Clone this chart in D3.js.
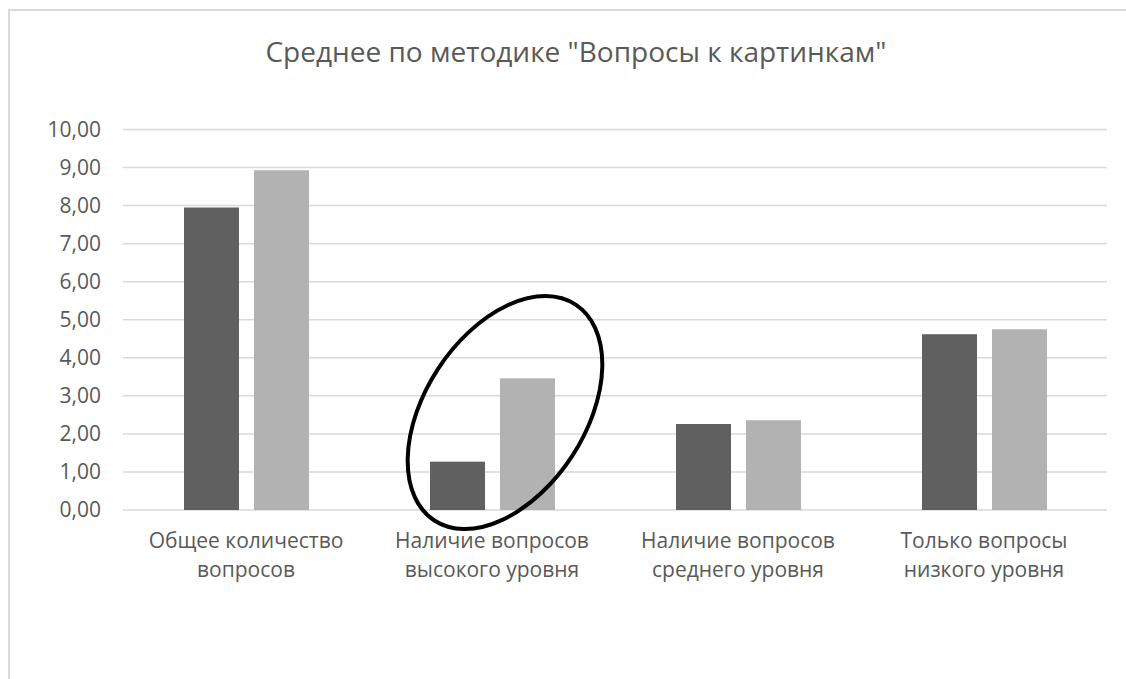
<!DOCTYPE html>
<html>
<head>
<meta charset="utf-8">
<script src="https://cdn.jsdelivr.net/npm/d3@7"></script>
<style>
  html, body { margin: 0; padding: 0; background: #fff; }
  svg { display: block; font-family: "Open Sans", "Noto Sans", sans-serif; }
</style>
</head>
<body>
<svg id="chart" width="1126" height="679"></svg>
<script>
const title = 'Среднее по методике "Вопросы к картинкам"';
const categories = [
  ["Общее количество", "вопросов"],
  ["Наличие вопросов", "высокого уровня"],
  ["Наличие вопросов", "среднего уровня"],
  ["Только вопросы", "низкого уровня"]
];
const series1 = [7.95, 1.27, 2.26, 4.62];
const series2 = [8.93, 3.46, 2.36, 4.75];
const yTicks = [0, 1, 2, 3, 4, 5, 6, 7, 8, 9, 10];
const seriesColors = ["#606060", "#b2b2b2"];
const highlight = { category: 1, value: 2.56 };

const svg = d3.select("#chart");
const W = 1126, H = 679;
const plot = { left: 123, right: 1107, top: 129.5, bottom: 510 };

// chart area border
svg.append("rect")
  .attr("x", 9).attr("y", 10)
  .attr("width", W + 20).attr("height", H + 20)
  .attr("fill", "#fff")
  .attr("stroke", "#d9d9d9").attr("stroke-width", 2);

// title
svg.append("text")
  .attr("x", 576).attr("y", 62)
  .attr("text-anchor", "middle")
  .attr("font-size", 28)
  .attr("fill", "#595959")
  .text(title);

const catKeys = categories.map((c, i) => i);
const x0 = d3.scaleBand().domain(catKeys).range([plot.left, plot.right]).padding(0);
const x1 = d3.scaleBand().domain([0, 1]).range([61, 186]).paddingInner(0.2143).paddingOuter(0);
const y = d3.scaleLinear().domain([0, 10]).range([plot.bottom, plot.top]);

// gridlines
svg.append("g")
  .selectAll("line")
  .data(yTicks)
  .join("line")
  .attr("x1", plot.left).attr("x2", plot.right)
  .attr("y1", d => y(d)).attr("y2", d => y(d))
  .attr("stroke", "#d9d9d9").attr("stroke-width", 1.5);

// y axis labels
const yAxis = d3.axisLeft(y)
  .tickValues(yTicks)
  .tickSize(0)
  .tickPadding(0)
  .tickFormat(d => d3.format(".2f")(d).replace(".", ","));
const yg = svg.append("g")
  .attr("transform", `translate(101,0)`)
  .call(yAxis);
yg.select(".domain").remove();
yg.selectAll("text")
  .attr("font-size", 21)
  .attr("font-family", '"Open Sans", sans-serif')
  .attr("fill", "#595959");

// bars
const data = [series1, series2];
const groups = svg.append("g")
  .selectAll("g")
  .data(catKeys)
  .join("g")
  .attr("transform", d => `translate(${x0(d)},0)`);

groups.selectAll("rect")
  .data(ci => data.map((s, si) => ({ si, v: s[ci] })))
  .join("rect")
  .attr("x", d => x1(d.si))
  .attr("width", x1.bandwidth())
  .attr("y", d => y(d.v))
  .attr("height", d => y(0) - y(d.v))
  .attr("fill", d => seriesColors[d.si]);

// category labels
const catLabels = svg.append("g")
  .selectAll("text")
  .data(categories)
  .join("text")
  .attr("text-anchor", "middle")
  .attr("font-size", 21)
  .attr("fill", "#595959");
catLabels.each(function (lines, i) {
  const t = d3.select(this);
  lines.forEach((ln, j) => {
    t.append("tspan")
      .attr("x", x0(i) + x0.bandwidth() / 2)
      .attr("y", 548 + j * 28.5)
      .text(ln);
  });
});

// hand-drawn highlight ellipse
const hcx = x0(highlight.category) + x0.bandwidth() / 2 + 13;
const hcy = y(highlight.value);
svg.append("ellipse")
  .attr("cx", 0).attr("cy", 0)
  .attr("rx", 129).attr("ry", 80)
  .attr("transform", `translate(${hcx},${hcy}) rotate(-56.8)`)
  .attr("fill", "none")
  .attr("stroke", "#000")
  .attr("stroke-width", 4);
</script>
</body>
</html>
